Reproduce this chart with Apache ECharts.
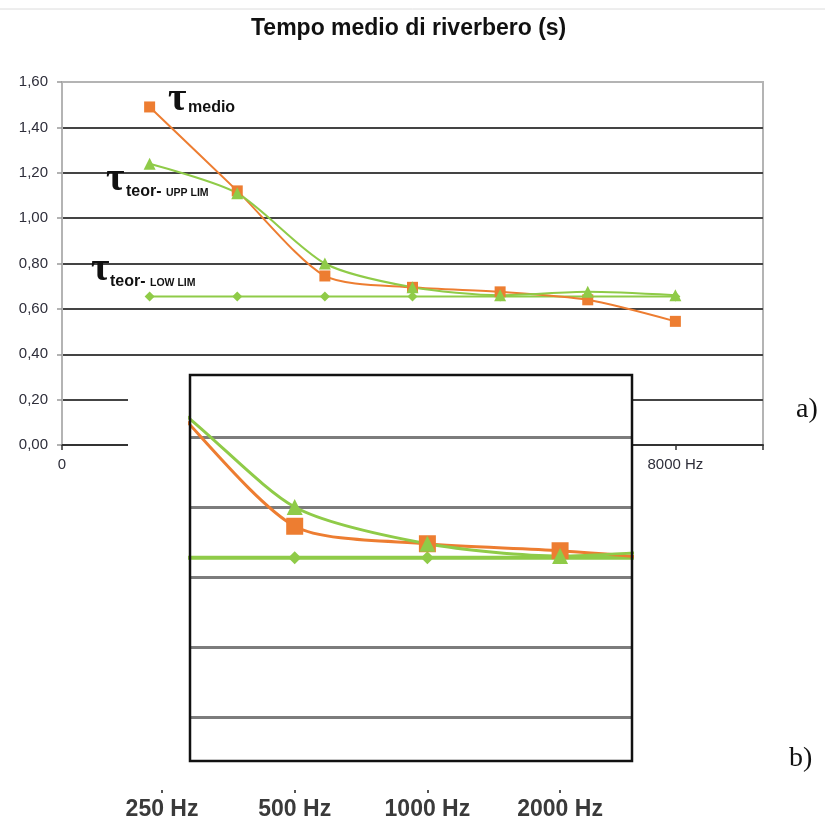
<!DOCTYPE html>
<html>
<head>
<meta charset="utf-8">
<script src="https://cdn.jsdelivr.net/npm/echarts@6/dist/echarts.min.js"></script>
<style>html,body{margin:0;padding:0;background:#fff}#c{width:825px;height:825px}</style>
</head>
<body>
<div id="c"></div>
<script>
// ---- data ----
const freqLabels = ['125 Hz','250 Hz','500 Hz','1000 Hz','2000 Hz','4000 Hz','8000 Hz'];
const tauMedio = [1.49, 1.12, 0.745, 0.695, 0.675, 0.64, 0.545];
const tauUpp   = [1.24, 1.11, 0.80, 0.695, 0.66, 0.675, 0.66];
const tauLow   = [0.655, 0.655, 0.655, 0.655, 0.655, 0.655, 0.655];
const insetLabels = ['250 Hz','500 Hz','1000 Hz','2000 Hz'];
const yMaxA = 1.6, yStep = 0.2;

const toXY = arr => arr.map((v, i) => [i + 1, v]);
const ORANGE = '#ED7D31', GREEN = '#8FCB48';
const SANS = 'Liberation Sans, Arial, sans-serif';
const SERIF = 'Liberation Serif, Times New Roman, serif';

const chart = echarts.init(document.getElementById('c'));

function mkSeries(idx, big) {
  const base = {
    type: 'line', xAxisIndex: idx, yAxisIndex: idx, smooth: 0.25,
    z: big ? 10 : 2, clip: true, animation: false
  };
  return [
    Object.assign({}, base, {
      name: 'tau teor LOW LIM', data: toXY(tauLow), smooth: false,
      symbol: 'diamond', symbolSize: big ? 13 : 10,
      lineStyle: { color: GREEN, width: big ? 4 : 2 }, itemStyle: { color: GREEN }
    }),
    Object.assign({}, base, {
      name: 'tau medio', data: toXY(tauMedio),
      symbol: 'rect', symbolSize: big ? 17 : 11,
      lineStyle: { color: ORANGE, width: big ? 3 : 2 }, itemStyle: { color: ORANGE }
    }),
    Object.assign({}, base, {
      name: 'tau teor UPP LIM', data: toXY(tauUpp),
      symbol: 'triangle', symbolSize: big ? 16 : 12,
      lineStyle: { color: GREEN, width: big ? 3 : 2 }, itemStyle: { color: GREEN }
    })
  ];
}

const gridColorsA = ['#333', '#444', '#444', '#444', '#444', '#444', '#444', '#444', '#b4b4b4'];
const gridColorsB = ['rgba(0,0,0,0)', '#7c7c7c', '#7c7c7c', '#7c7c7c', '#7c7c7c', '#7c7c7c', 'rgba(0,0,0,0)'];

function tx(text, x, y, font, z) {
  return { type: 'text', z: z || 30, style: { text: text, x: x, y: y, font: font, fill: '#111',
    textAlign: 'left', textVerticalAlign: 'middle', align: 'left', verticalAlign: 'middle' } };
}

chart.setOption({
  animation: false,
  backgroundColor: '#fff',
  title: {
    text: 'Tempo medio di riverbero (s)', left: 246, top: 12,
    textStyle: { fontFamily: SANS, fontSize: 23, fontWeight: 'bold', color: '#111' }
  },
  grid: [
    { left: 62, top: 82, width: 701, height: 363, show: true, borderColor: '#b4b4b4', borderWidth: 2 },
    { left: 190, top: 367, width: 442, height: 420 },
    { left: 95.7, top: 770, width: 530.7, height: 20 }
  ],
  xAxis: [
    { gridIndex: 0, type: 'value', min: 0, max: 8, interval: 1,
      axisLine: { lineStyle: { color: '#333', width: 2 } },
      axisTick: { length: 5, lineStyle: { color: '#333', width: 1.5 } },
      splitLine: { show: false },
      axisLabel: { margin: 12, fontFamily: SANS, fontSize: 15, color: '#2e2e3a',
        formatter: v => v === 0 ? '0' : (v === 7 ? freqLabels[6] : '') } },
    { gridIndex: 1, type: 'value', min: 2.211, max: 5.542, show: false },
    { gridIndex: 2, type: 'category', data: insetLabels, z: 8,
      axisLine: { show: false },
      axisTick: { show: true, alignWithLabel: true, length: 3, lineStyle: { color: '#555', width: 2 } },
      axisLabel: { margin: 8, fontFamily: SANS, fontSize: 23, fontWeight: 'bold', color: '#3a3a3a' } }
  ],
  yAxis: [
    { gridIndex: 0, type: 'value', min: 0, max: yMaxA, interval: yStep,
      axisLine: { show: true, lineStyle: { color: '#b4b4b4', width: 2 } },
      axisTick: { show: true, length: 5, lineStyle: { color: '#999', width: 1.5 } },
      splitLine: { lineStyle: { color: gridColorsA, width: 2 } },
      axisLabel: { margin: 14, fontFamily: SANS, fontSize: 15, color: '#2e2e3a',
        formatter: v => v.toFixed(2).replace('.', ',') } },
    { gridIndex: 1, type: 'value', min: 0, max: 1.2, interval: yStep, z: 8,
      axisLine: { show: false }, axisTick: { show: false }, axisLabel: { show: false },
      splitLine: { lineStyle: { color: gridColorsB, width: 3 } } },
    { gridIndex: 2, type: 'value', show: false }
  ],
  series: [].concat(mkSeries(0, false), mkSeries(1, true)),
  graphic: [
    { type: 'line', z: 1, shape: { x1: 0, y1: 9, x2: 825, y2: 9 }, style: { stroke: '#dcdcdc', lineWidth: 1 } },
    { type: 'rect', z: 5, shape: { x: 128, y: 362, width: 505, height: 463 }, style: { fill: '#fff' } },
    { type: 'rect', z: 20, shape: { x: 190, y: 375, width: 442, height: 386 }, style: { fill: 'none', stroke: '#111', lineWidth: 2.5 } },
    tx('τ', 168, 100, 'bold 40px ' + SERIF),
    tx('medio', 188, 108, 'bold 16px ' + SANS),
    tx('τ', 106, 180, 'bold 40px ' + SERIF),
    tx('teor-', 126, 192, 'bold 16px ' + SANS),
    tx('UPP LIM', 166, 193, 'bold 10.5px ' + SANS),
    tx('τ', 91, 270, 'bold 40px ' + SERIF),
    tx('teor-', 110, 282, 'bold 16px ' + SANS),
    tx('LOW LIM', 150, 283, 'bold 10.5px ' + SANS),
    tx('a)', 796, 410, '28px ' + SERIF),
    tx('b)', 789, 759, '28px ' + SERIF)
  ]
});
</script>
</body>
</html>
